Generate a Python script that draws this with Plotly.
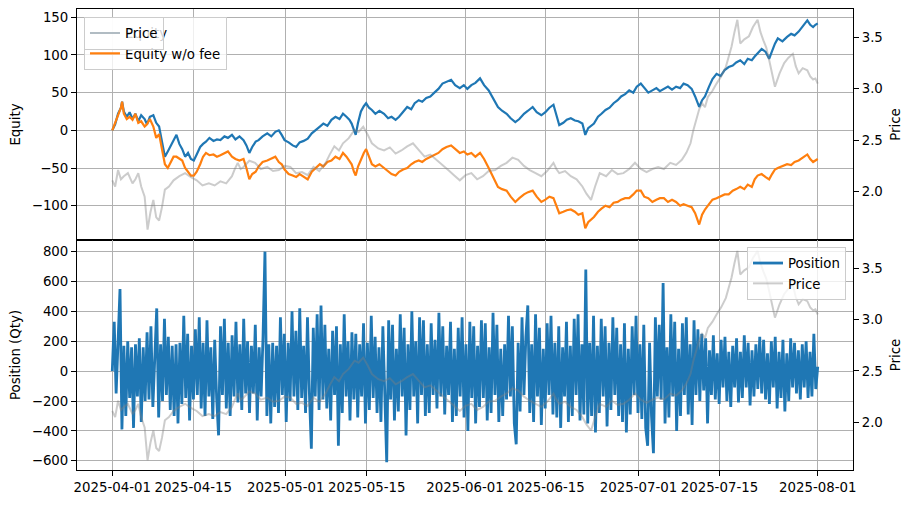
import pandas as pd
import plotly.graph_objects as go

BASE = pd.Timestamp("2025-04-01")

# ---- Equity curves (day offset from 2025-04-01) ----
eq_days = [
    0, 0.5, 1.0, 1.5, 1.7, 2.0, 2.5, 3.0, 3.5, 4.0,
    4.5, 5.0, 5.6, 6.0, 6.5, 7.1, 7.6, 8.1, 8.6, 9.1,
    9.6, 10.1, 10.6, 11.1, 11.6, 12.1, 12.6, 13.1, 13.6, 14.1,
    14.6, 15.2, 15.7, 16.2, 16.8, 17.5, 18.1, 18.7, 19.4, 20.0,
    20.7, 21.3, 22.0, 22.7, 23.2, 23.7, 24.2, 24.8, 25.3, 26.0,
    26.8, 27.5, 28.2, 28.8, 29.3, 29.8, 30.5, 31.2, 31.8, 32.4,
    33.1, 33.8, 34.5, 35.2, 35.9, 36.5, 37.2, 37.9, 38.6, 39.3,
    39.9, 40.5, 41.0, 41.4, 41.8, 42.1, 42.5, 43.0, 43.5, 43.9,
    44.4, 44.9, 45.5, 46.2, 47.0, 47.7, 48.3, 49.0, 49.6, 50.3,
    51.0, 51.7, 52.3, 53.0, 53.6, 54.3, 55.0, 55.7, 56.4, 57.1,
    57.8, 58.6, 59.3, 60.1, 60.8, 61.4, 62.1, 62.8, 63.6, 64.3,
    65.1, 65.9, 66.7, 67.4, 68.2, 68.9, 69.7, 70.4, 71.2, 71.9,
    72.7, 73.4, 74.2, 74.9, 75.6, 76.3, 76.8, 77.3, 78.0, 78.6,
    79.3, 80.0, 80.6, 81.3, 81.8, 82.3, 83.3, 84.0, 84.6, 85.3,
    86.0, 86.7, 87.4, 88.0, 88.7, 89.4, 90.1, 90.7, 91.4, 92.0,
    92.7, 93.4, 94.1, 94.7, 95.4, 96.1, 96.8, 97.5, 98.2, 98.8,
    99.5, 100.2, 100.8, 101.5, 102.0, 102.5, 103.2, 103.8, 104.5, 105.2,
    105.9, 106.6, 107.3, 107.9, 108.6, 109.3, 109.9, 110.6, 111.1, 111.6,
    112.3, 113.0, 113.6, 114.1, 114.6, 115.1, 115.9, 116.7, 117.4, 118.0,
    118.7, 119.4, 120.2, 120.7, 121.2, 121.6, 122.0,
]

equity = [
    0, 8, 22, 30, 38, 25, 18, 24, 15, 22,
    12, 20, 15, 8, 18, 20, 10, 5, -15, -35,
    -28, -20, -12, -6, -18, -25, -35, -30, -38, -40,
    -32, -22, -18, -15, -10, -14, -12, -13, -8, -10,
    -6, -12, -8, -13, -20, -30, -22, -15, -13, -8,
    -4, -8, -2, 0, -6, -13, -16, -20, -22, -16,
    -14, -11, -4, 0, 5, 9, 6, 14, 18, 15,
    22, 18, 14, 9, 0, -6, 10, 25, 32, 36,
    30, 27, 22, 26, 22, 16, 18, 14, 18, 25,
    31, 28, 36, 40, 38, 43, 45, 50, 55, 62,
    64, 67, 60, 56, 60, 55, 60, 63, 69, 60,
    53, 42, 31, 26, 22, 16, 11, 15, 22, 26,
    31, 24, 20, 24, 30, 34, 22, 7, 10, 14,
    16, 13, 12, 9, -6, 3, 9, 18, 22, 27,
    30, 36, 40, 45, 48, 53, 50, 58, 62, 56,
    50, 53, 56, 52, 55, 58, 54, 58, 56, 62,
    60, 55, 45, 31, 40, 45, 58, 68, 75, 72,
    80, 84, 86, 90, 93, 88, 95, 93, 98, 102,
    108, 104, 95, 105, 115, 122, 118, 124, 128, 126,
    131, 138, 146, 140, 137, 140, 142,
]

equity_wo_fee = [
    0, 10, 20, 30, 38, 22, 15, 18, 14, 22,
    10, 12, 5, 8, 15, 5, -10, -5, -25, -45,
    -50, -42, -35, -35, -38, -40, -50, -55, -60, -60,
    -55, -45, -35, -30, -33, -32, -35, -33, -30, -28,
    -35, -38, -40, -38, -50, -65, -58, -55, -48, -42,
    -40, -37, -35, -42, -45, -52, -58, -60, -62, -58,
    -62, -65, -55, -50, -45, -48, -42, -40, -35, -38,
    -30, -35, -40, -45, -55, -60, -48, -38, -30, -25,
    -35, -45, -48, -45, -50, -55, -58, -60, -55, -52,
    -50, -45, -42, -40, -42, -38, -35, -33, -30, -25,
    -22, -20, -25, -30, -28, -32, -30, -35, -30, -38,
    -50, -62, -75, -78, -80, -88, -95, -90, -85, -82,
    -80, -88, -95, -92, -88, -90, -100, -110, -108, -106,
    -105, -108, -112, -110, -130, -122, -115, -108, -104, -100,
    -102, -96, -95, -92, -90, -90, -85, -80, -80, -88,
    -90, -95, -92, -90, -90, -95, -92, -95, -100, -98,
    -100, -102, -110, -125, -112, -105, -98, -92, -90, -88,
    -85, -85, -80, -78, -75, -78, -72, -75, -65, -60,
    -58, -62, -65, -58, -52, -50, -48, -45, -46, -42,
    -40, -36, -32, -38, -42, -40, -38,
]

# ---- Price (day offset, value) ----
price_days = [
    0, 0.5, 1.0, 1.5, 2.0, 2.7, 3.5, 4.0, 4.5, 5.0,
    5.6, 6.1, 6.6, 7.1, 7.6, 8.1, 8.6, 9.1, 9.8, 10.6,
    11.6, 12.6, 13.6, 14.6, 15.6, 16.7, 17.7, 18.7, 19.7, 20.7,
    21.2, 21.7, 22.2, 22.7, 23.7, 24.7, 25.7, 26.8, 27.8, 28.8,
    29.8, 30.8, 31.8, 32.8, 33.8, 34.8, 35.8, 36.9, 37.6, 38.4,
    39.2, 39.9, 40.9, 41.9, 42.6, 43.4, 44.2, 44.9, 46.0, 47.0,
    48.0, 49.0, 50.0, 51.0, 52.0, 53.0, 54.0, 55.0, 56.1, 57.1,
    58.1, 59.1, 60.1, 61.1, 62.1, 63.1, 64.1, 65.1, 66.2, 67.2,
    68.2, 69.2, 70.2, 71.2, 72.2, 73.2, 74.2, 75.2, 76.3, 76.8,
    77.3, 78.3, 79.3, 80.3, 81.3, 82.0, 82.8, 83.5, 84.3, 85.4,
    86.4, 87.4, 88.4, 89.4, 90.4, 91.4, 92.4, 93.4, 94.4, 95.4,
    96.5, 97.5, 98.5, 99.3, 100.0, 100.5, 101.0, 101.5, 102.0, 102.5,
    103.0, 103.8, 104.5, 105.3, 106.1, 106.6, 107.1, 107.6, 108.1, 108.6,
    109.3, 110.1, 110.8, 111.6, 112.1, 112.6, 113.1, 113.6, 114.1, 114.6,
    115.4, 116.2, 116.9, 117.7, 118.2, 118.7, 119.4, 120.2, 120.7, 121.2,
    121.6, 122.0,
]

price = [
    2.11, 2.05, 2.21, 2.12, 2.15, 2.18, 2.08, 2.12, 2.18, 2.05,
    1.95, 1.63, 1.80, 1.92, 1.75, 1.72, 1.85, 2.02, 2.05, 2.11,
    2.15, 2.18, 2.14, 2.11, 2.06, 2.08, 2.06, 2.10, 2.08, 2.15,
    2.22, 2.28, 2.22, 2.24, 2.30, 2.28, 2.22, 2.24, 2.20, 2.21,
    2.25, 2.24, 2.18, 2.19, 2.16, 2.24, 2.20, 2.28, 2.36, 2.44,
    2.40, 2.47, 2.52, 2.60, 2.58, 2.63, 2.55, 2.47, 2.42, 2.40,
    2.43, 2.37, 2.40, 2.44, 2.47, 2.40, 2.34, 2.36, 2.31, 2.26,
    2.21, 2.16, 2.11, 2.16, 2.18, 2.12, 2.15, 2.20, 2.21, 2.25,
    2.28, 2.33, 2.31, 2.25, 2.21, 2.18, 2.15, 2.20, 2.28, 2.22,
    2.18, 2.20, 2.15, 2.12, 2.05, 1.98, 1.92, 2.05, 2.18, 2.15,
    2.21, 2.17, 2.18, 2.22, 2.28, 2.22, 2.19, 2.22, 2.24, 2.22,
    2.28, 2.26, 2.31, 2.38, 2.47, 2.60, 2.70, 2.80, 2.86, 2.82,
    2.92, 2.98, 3.05, 3.12, 3.21, 3.30, 3.41, 3.55, 3.67, 3.44,
    3.48, 3.51, 3.60, 3.67, 3.55, 3.47, 3.40, 3.28, 3.15, 3.02,
    3.15, 3.25, 3.30, 3.34, 3.22, 3.15, 3.20, 3.18, 3.12, 3.09,
    3.10, 3.05,
]

# ---- Position (Qty), sampled every 8 hours from 2025-04-01 to 2025-08-01 ----
position = [
    0, 330, -150, 280, 550, -390, 170, -300, 200, -180, 160, -380,
    180, -170, 220, -340, 160, -200, 260, -190, 300, -240, 150, 420,
    -310, 180, -200, 350, -160, 230, -260, 170, -300, 180, -350, 190,
    -220, 370, -180, 250, -330, 170, -190, 280, -160, 360, -250, 190,
    -300, 340, -170, 160, -320, 210, -180, -430, 300, -160, 350, -250,
    190, -300, 240, -170, 330, -210, 180, -260, 350, -150, 200, -280,
    170, -150, 310, -330, 160, -170, 230, 800, -300, 180, -350, 190,
    -240, 170, -280, 360, -160, 250, -340, 190, -200, 400, -170, 270,
    -260, 420, -180, 170, -280, 360, -150, -520, 290, -170, 380, -260,
    440, -190, 310, -250, 150, -330, 270, -160, 300, -500, 180, -280,
    380, -170, 200, -330, 260, -190, 250, -310, 180, -170, 320, -350,
    190, -260, 370, -180, 230, -280, 160, -340, 300, -150, -610, 340,
    -190, 310, -330, 150, -270, 380, -170, 290, -430, 180, -260, 400,
    -170, 200, -350, 360, -160, 340, -300, 180, -280, 320, -160, 210,
    -250, 390, -170, 300, -290, 170, -160, 330, -340, 150, -300, 290,
    -170, 360, -310, 180, -400, 330, -180, 300, -350, 170, -240, 340,
    -180, 320, -330, 160, -280, 390, -160, 310, -340, 150, -300, 180,
    -190, 370, -170, 300, -350, -490, 190, -270, 360, -160, 230, 440,
    -280, 180, -340, 380, -170, 290, -360, 150, -250, 320, -160, 370,
    -290, 190, -310, 300, -380, 160, -170, 330, -340, 170, -300, 350,
    -160, 380, -330, 180, -290, 680, -350, 190, -300, 370, -410, 170,
    -280, 350, -170, 300, -370, 190, -260, 360, -160, 290, -300, 180,
    -340, 320, -410, 150, -290, 300, -160, 370, -280, 180, -320, 310,
    -380, -500, 190, -300, -550, 360, -170, 310, -190, 590, -350, 160,
    -310, 380, -170, 330, -400, 150, -300, 320, -160, 360, -290, 180,
    -360, 340, -160, 280, -200, 250, -130, 220, -350, 140, -160, 240,
    -190, 120, -220, 210, -110, 230, -200, 130, -240, 170, -110, 220,
    -210, 130, -180, 240, -110, 190, -230, 140, -170, 180, -120, 230,
    -150, 210, -190, 120, -220, 200, -110, 230, -250, 130, -180, 210,
    -270, 120, -200, 220, -110, 190, -150, 140, -190, 180, -110, 200,
    -180, 130, -170, 250, -120, 30,
]

date_ticks = ["2025-04-01", "2025-04-15", "2025-05-01", "2025-05-15", "2025-06-01",
              "2025-06-15", "2025-07-01", "2025-07-15", "2025-08-01"]
equity_ticks = [-100, -50, 0, 50, 100, 150]
position_ticks = [-600, -400, -200, 0, 200, 400, 600, 800]
price_ticks = [2.0, 2.5, 3.0, 3.5]

# ---- build ----
def to_dates(days):
    return [BASE + pd.Timedelta(days=d) for d in days]

x_eq = to_dates(eq_days)
x_price = to_dates(price_days)
x_pos = pd.date_range("2025-04-01", "2025-08-01", periods=len(position))

BLUE = "#1f77b4"
ORANGE = "#ff7f0e"
GRAY = "rgba(128,128,128,0.4)"
FONT = "DejaVu Sans"
FS = 13.33

fig = go.Figure()
fig.add_trace(go.Scatter(x=x_eq, y=equity, mode="lines", name="Equity",
                         line=dict(color=BLUE, width=2.2), xaxis="x", yaxis="y", legend="legend"))
fig.add_trace(go.Scatter(x=x_eq, y=equity_wo_fee, mode="lines", name="Equity w/o fee",
                         line=dict(color=ORANGE, width=2.2), xaxis="x", yaxis="y", legend="legend"))
fig.add_trace(go.Scatter(x=x_price, y=price, mode="lines", name="Price",
                         line=dict(color=GRAY, width=2), xaxis="x", yaxis="y2", legend="legend2"))
fig.add_trace(go.Scatter(x=x_pos, y=position, mode="lines", name="Position",
                         line=dict(color=BLUE, width=2.8), xaxis="x2", yaxis="y3", legend="legend3"))
fig.add_trace(go.Scatter(x=x_price, y=price, mode="lines", name="Price",
                         line=dict(color=GRAY, width=2), xaxis="x2", yaxis="y4", legend="legend3"))

xrange = [BASE - pd.Timedelta(days=6.1), BASE + pd.Timedelta(days=128.1)]
split = 230 / 461

axis_common = dict(showline=True, linecolor="black", linewidth=1, ticks="outside",
                   ticklen=5, tickwidth=1, tickcolor="black", zeroline=False,
                   tickfont=dict(family=FONT, size=FS, color="black"))

legend_common = dict(bgcolor="rgba(255,255,255,0.8)", bordercolor="#cccccc", borderwidth=1,
                     font=dict(family=FONT, size=FS, color="black"), itemwidth=30,
                     tracegroupgap=0)

fig.update_layout(
    width=913, height=505,
    margin=dict(l=77, r=60, t=9, b=35),
    plot_bgcolor="white", paper_bgcolor="white",
    font=dict(family=FONT, size=FS, color="black"),
    xaxis=dict(domain=[0, 1], anchor="y", range=xrange, showticklabels=False,
               tickvals=date_ticks, showgrid=True, gridcolor="#b0b0b0", gridwidth=1,
               mirror=True, **axis_common),
    yaxis=dict(domain=[split, 1], anchor="x", range=[-145.5, 161], tickvals=equity_ticks,
               showgrid=True, gridcolor="#b0b0b0", gridwidth=1,
               title=dict(text="Equity", standoff=8, font=dict(family=FONT, size=FS)),
               **axis_common),
    yaxis2=dict(overlaying="y", side="right", anchor="x", range=[1.53, 3.775],
                tickvals=price_ticks, tickformat=".1f", showgrid=False,
                title=dict(text="Price", standoff=8, font=dict(family=FONT, size=FS)),
                **axis_common),
    xaxis2=dict(domain=[0, 1], anchor="y3", matches="x", range=xrange,
                tickvals=date_ticks, ticktext=date_ticks, showgrid=True,
                gridcolor="#b0b0b0", gridwidth=1, mirror=True, **axis_common),
    yaxis3=dict(domain=[0, split], anchor="x2", range=[-662, 878], tickvals=position_ticks,
                showgrid=True, gridcolor="#b0b0b0", gridwidth=1,
                title=dict(text="Position (Qty)", standoff=8, font=dict(family=FONT, size=FS)),
                **axis_common),
    yaxis4=dict(overlaying="y3", side="right", anchor="x2", range=[1.535, 3.776],
                tickvals=price_ticks, tickformat=".1f", showgrid=False,
                title=dict(text="Price", standoff=8, font=dict(family=FONT, size=FS)),
                **axis_common),
    legend=dict(x=0.009, y=0.983, xanchor="left", yanchor="top", **legend_common),
    legend2=dict(x=0.009, y=0.983, xanchor="left", yanchor="top", **legend_common),
    legend3=dict(x=0.991, y=0.484, xanchor="right", yanchor="top", **legend_common),
    showlegend=True,
)

fig.write_html("out.html")
